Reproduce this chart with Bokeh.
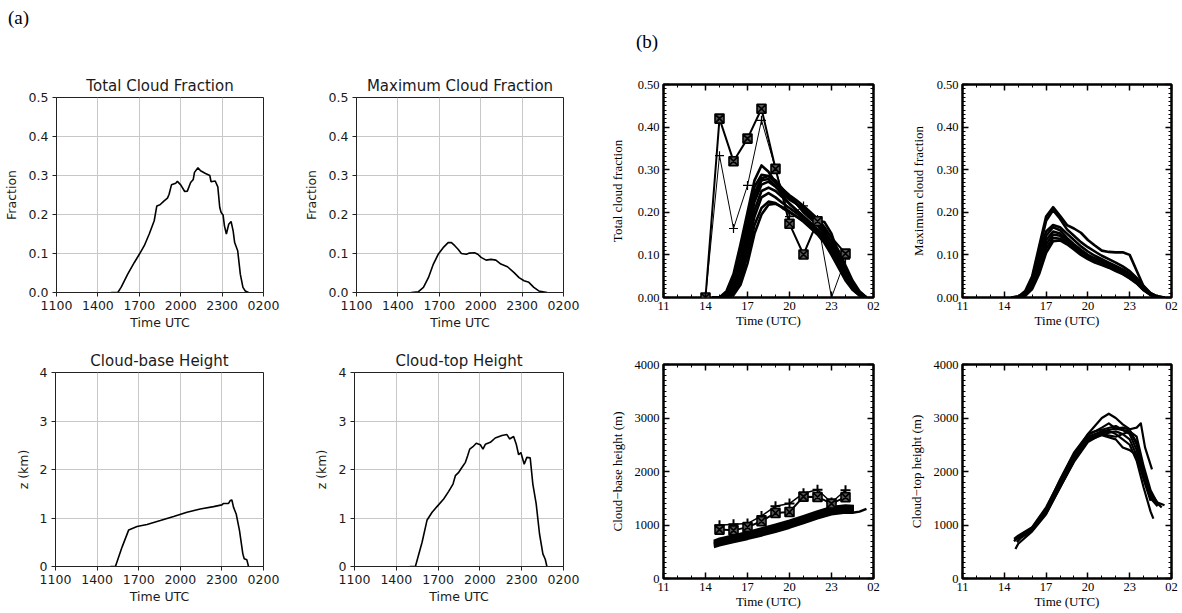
from bokeh.plotting import figure
from bokeh.models import (Range1d, FixedTicker, SingleIntervalTicker, NumeralTickFormatter,
                          LinearAxis, Title, Div, CustomJSTickFormatter)
from bokeh.layouts import row, column
from bokeh.embed import file_html
from bokeh.resources import INLINE

# ---------------- data: panel (a) ----------------
A_XTICKS = [11, 14, 17, 20, 23, 26]
A_XLABELS = ["1100", "1400", "1700", "2000", "2300", "0200"]
A_FRAC_TICKS = [0.0, 0.1, 0.2, 0.3, 0.4, 0.5]
A_Z_TICKS = [0, 1, 2, 3, 4]

TCF_T = [14.96, 15.44, 15.68, 16.16, 16.64, 17.0, 17.36, 17.72, 18.08, 18.27, 18.5, 18.8, 19.04, 19.16,
         19.33, 19.64, 19.76, 20.0, 20.29, 20.48, 20.72, 20.91, 21.0, 21.25, 21.44, 21.8, 22.11, 22.2,
         22.5, 22.69, 22.83, 22.93, 23.07, 23.17, 23.31, 23.48, 23.65, 23.8, 23.91, 24.13, 24.32, 24.51,
         24.68, 24.92]
TCF_V = [0.0, 0.0, 0.013, 0.047, 0.077, 0.098, 0.12, 0.15, 0.184, 0.222, 0.225, 0.235, 0.242, 0.252,
         0.276, 0.28, 0.285, 0.276, 0.259, 0.26, 0.282, 0.29, 0.308, 0.32, 0.312, 0.305, 0.3, 0.284,
         0.286, 0.271, 0.218, 0.205, 0.199, 0.171, 0.15, 0.175, 0.182, 0.158, 0.128, 0.107, 0.047, 0.013,
         0.004, 0.0]

MCF_T = [14.97, 15.49, 15.85, 16.21, 16.57, 16.92, 17.28, 17.64, 17.88, 18.12, 18.36, 18.6, 18.96, 19.19,
         19.55, 19.79, 20.03, 20.39, 20.75, 21.1, 21.46, 21.94, 22.42, 22.78, 23.14, 23.49, 23.85, 24.21,
         24.81]
MCF_V = [0.0, 0.002, 0.013, 0.038, 0.073, 0.098, 0.115, 0.128, 0.128, 0.12, 0.111, 0.1, 0.098, 0.101,
         0.102, 0.098, 0.09, 0.083, 0.085, 0.083, 0.073, 0.066, 0.051, 0.038, 0.03, 0.026, 0.013, 0.004,
         0.0]

CBH_T = [14.96, 15.32, 15.8, 16.28, 16.88, 17.6, 18.56, 19.52, 20.48, 21.44, 22.4, 23.0, 23.12, 23.48,
         23.6, 23.72, 23.84, 24.03, 24.27, 24.51, 24.61, 24.8, 24.92]
CBH_V = [0.0, 0.0, 0.4, 0.755, 0.823, 0.865, 0.947, 1.03, 1.118, 1.187, 1.235, 1.27, 1.3, 1.3,
         1.36, 1.372, 1.22, 1.084, 0.741, 0.261, 0.158, 0.137, 0.0]

CTH_T = [14.97, 15.37, 15.85, 16.21, 16.57, 16.92, 17.4, 17.76, 18.07, 18.24, 18.48, 18.72, 18.96, 19.12,
         19.27, 19.5, 19.74, 20.03, 20.22, 20.39, 20.75, 21.1, 21.58, 21.94, 22.13, 22.42, 22.61, 22.78,
         22.94, 23.18, 23.37, 23.61, 23.8, 24.04, 24.28, 24.52, 24.69, 24.81]
CTH_V = [0.0, 0.0, 0.5, 0.96, 1.118, 1.235, 1.393, 1.55, 1.7, 1.873, 1.942, 2.045, 2.147, 2.285,
         2.42, 2.47, 2.54, 2.51, 2.42, 2.52, 2.56, 2.65, 2.7, 2.72, 2.63, 2.68, 2.52, 2.305,
         2.35, 2.11, 2.25, 2.24, 1.7, 1.29, 0.67, 0.26, 0.15, 0.0]

# ---------------- data: panel (b) ----------------
B_XTICKS = [11, 14, 17, 20, 23, 26]
B_XLABELS = ["11", "14", "17", "20", "23", "02"]
B_XMINOR = [11, 12, 13, 14, 15, 16, 17, 18, 19, 20, 21, 22, 23, 24, 25, 26]

# observations, total cloud fraction
OBS_SQ_T = [14, 15, 16, 17, 18, 19, 20, 21, 22, 24]
OBS_SQ_TCF = [0.0, 0.42, 0.32, 0.373, 0.443, 0.302, 0.173, 0.101, 0.179, 0.103]
OBS_PL_T = [14, 15, 16, 17, 18, 19, 20, 21, 22, 23, 24]
OBS_PL_TCF = [0.0, 0.333, 0.162, 0.263, 0.416, 0.302, 0.19, 0.215, 0.183, 0.0, 0.09]

# model runs, total cloud fraction
B_TCF_H = [14.5, 15.0, 15.5, 16.0, 16.5, 17.0, 17.5, 18.0, 18.5, 19.0, 19.5, 20.0, 20.5, 21.0, 21.5,
           22.0, 22.5, 23.0, 23.5, 24.0, 24.5, 25.0, 25.5]
B_TCF_RUNS = [
    [0.0, 0.0, 0.015, 0.055, 0.125, 0.2, 0.275, 0.31, 0.295, 0.27, 0.25, 0.235, 0.22, 0.205, 0.19, 0.175, 0.155, 0.13, 0.1, 0.065, 0.035, 0.012, 0.0],
    [0.0, 0.0, 0.01, 0.045, 0.11, 0.19, 0.26, 0.288, 0.285, 0.27, 0.255, 0.24, 0.228, 0.215, 0.2, 0.185, 0.165, 0.14, 0.11, 0.075, 0.04, 0.015, 0.0],
    [0.0, 0.0, 0.007, 0.035, 0.09, 0.17, 0.245, 0.28, 0.285, 0.275, 0.255, 0.235, 0.22, 0.2, 0.185, 0.17, 0.15, 0.13, 0.1, 0.065, 0.035, 0.012, 0.0],
    [0.0, 0.0, 0.005, 0.028, 0.08, 0.16, 0.235, 0.275, 0.278, 0.262, 0.24, 0.22, 0.205, 0.19, 0.175, 0.16, 0.145, 0.12, 0.09, 0.06, 0.03, 0.01, 0.0],
    [0.0, 0.0, 0.004, 0.022, 0.07, 0.15, 0.225, 0.265, 0.272, 0.26, 0.245, 0.23, 0.22, 0.21, 0.195, 0.18, 0.177, 0.15, 0.1, 0.055, 0.02, 0.005, 0.0],
    [0.0, 0.0, 0.003, 0.018, 0.06, 0.13, 0.205, 0.25, 0.258, 0.25, 0.235, 0.22, 0.205, 0.19, 0.175, 0.16, 0.14, 0.115, 0.085, 0.055, 0.028, 0.01, 0.0],
    [0.0, 0.0, 0.002, 0.014, 0.05, 0.12, 0.19, 0.235, 0.245, 0.235, 0.222, 0.21, 0.198, 0.185, 0.17, 0.155, 0.135, 0.11, 0.08, 0.05, 0.025, 0.008, 0.0],
    [0.0, 0.0, 0.001, 0.01, 0.04, 0.1, 0.17, 0.21, 0.225, 0.222, 0.21, 0.2, 0.19, 0.18, 0.165, 0.15, 0.13, 0.105, 0.075, 0.045, 0.02, 0.006, 0.0],
    [0.0, 0.0, 0.0, 0.006, 0.03, 0.08, 0.15, 0.195, 0.218, 0.22, 0.212, 0.202, 0.19, 0.178, 0.163, 0.148, 0.128, 0.1, 0.07, 0.04, 0.018, 0.005, 0.0],
]

# model runs, maximum cloud fraction
B_MCF_H = [14.5, 15.0, 15.5, 16.0, 16.5, 17.0, 17.5, 18.0, 18.5, 19.0, 19.5, 20.0, 20.5, 21.0, 21.5,
           22.0, 22.5, 23.0, 23.5, 24.0, 24.5, 25.0, 25.5]
B_MCF_RUNS = [
    [0, 0.002, 0.015, 0.05, 0.12, 0.19, 0.212, 0.192, 0.17, 0.162, 0.152, 0.135, 0.122, 0.11, 0.107, 0.106, 0.106, 0.1, 0.063, 0.026, 0.006, 0.001, 0],
    [0, 0.002, 0.012, 0.045, 0.11, 0.18, 0.205, 0.185, 0.16, 0.145, 0.13, 0.118, 0.108, 0.098, 0.09, 0.082, 0.073, 0.062, 0.046, 0.027, 0.01, 0.002, 0],
    [0, 0.001, 0.01, 0.04, 0.1, 0.155, 0.17, 0.165, 0.15, 0.135, 0.12, 0.108, 0.098, 0.09, 0.082, 0.074, 0.066, 0.056, 0.042, 0.024, 0.01, 0.002, 0],
    [0, 0.001, 0.009, 0.036, 0.09, 0.145, 0.165, 0.158, 0.14, 0.125, 0.112, 0.1, 0.092, 0.085, 0.078, 0.07, 0.063, 0.053, 0.04, 0.022, 0.009, 0.002, 0],
    [0, 0.001, 0.007, 0.032, 0.085, 0.135, 0.155, 0.15, 0.135, 0.122, 0.11, 0.098, 0.09, 0.082, 0.076, 0.068, 0.06, 0.05, 0.038, 0.02, 0.008, 0.001, 0],
    [0, 0.0, 0.006, 0.028, 0.075, 0.125, 0.148, 0.145, 0.132, 0.12, 0.108, 0.096, 0.088, 0.08, 0.074, 0.066, 0.058, 0.048, 0.036, 0.019, 0.007, 0.001, 0],
    [0, 0.0, 0.005, 0.024, 0.065, 0.115, 0.14, 0.138, 0.128, 0.116, 0.104, 0.093, 0.085, 0.078, 0.072, 0.064, 0.056, 0.046, 0.034, 0.018, 0.006, 0.001, 0],
    [0, 0.0, 0.004, 0.02, 0.055, 0.105, 0.132, 0.134, 0.125, 0.113, 0.1, 0.09, 0.082, 0.076, 0.07, 0.062, 0.055, 0.045, 0.033, 0.017, 0.006, 0.001, 0],
]

# observations, cloud-base height (m)
OBS_CB_T = [15, 16, 17, 18, 19, 20, 21, 22, 23, 24]
OBS_SQ_CBH = [914, 900, 960, 1070, 1225, 1244, 1530, 1524, 1400, 1520]
OBS_PL_CBH = [995, 1014, 1026, 1170, 1350, 1400, 1595, 1660, 1420, 1650]

# model runs, cloud-base height (m)
B_CBH_H = [14.6, 15, 16, 17, 18, 19, 20, 21, 22, 23, 24, 24.6]
B_CBH_RUNS = [
    [700, 740, 800, 860, 930, 1000, 1075, 1160, 1250, 1330, 1360, 1350],
    [680, 720, 780, 840, 910, 980, 1055, 1140, 1230, 1305, 1340, 1330],
    [660, 700, 760, 820, 890, 960, 1035, 1120, 1210, 1285, 1320, 1310],
    [645, 685, 745, 805, 870, 940, 1015, 1100, 1190, 1265, 1300, 1300],
    [630, 665, 725, 785, 850, 920, 995, 1080, 1170, 1245, 1285, 1290],
    [610, 645, 705, 765, 830, 900, 975, 1060, 1150, 1225, 1265, 1270],
]
B_CBH_LONG_H = [14.6, 15, 16, 17, 18, 19, 20, 21, 22, 23, 24, 24.5, 25, 25.5]
B_CBH_LONG_V = [590, 620, 680, 740, 805, 875, 950, 1035, 1125, 1200, 1235, 1230, 1250, 1300]

# model runs, cloud-top height (m)
B_CTH_HOURS = [
    [14.7, 15, 16, 17, 18, 19, 20, 20.5, 21, 21.5, 22, 22.5, 23, 23.5, 23.8, 24.1, 24.6],
    [14.7, 15, 16, 17, 18, 19, 20, 21, 21.5, 22, 22.5, 23, 23.5, 24, 24.5, 25, 25.5],
    [14.8, 15, 16, 17, 18, 19, 20, 21, 21.5, 22, 22.5, 23, 23.5, 24, 24.5, 24.7],
    [14.7, 15, 16, 17, 18, 19, 20, 21, 22, 22.5, 23, 23.5, 24, 24.5, 25, 25.3],
    [14.9, 15.2, 16, 17, 18, 19, 20, 21, 22, 22.5, 23, 23.5, 24, 24.5, 25],
    [15, 16, 17, 18, 19, 20, 21, 21.5, 22, 23, 23.5, 24, 24.5, 25],
    [15, 16, 17, 18, 19, 20, 21, 22, 22.5, 23, 23.5, 24, 24.5],
    [15, 16, 17, 18, 19, 20, 20.5, 21, 22, 23, 23.5, 24, 24.5, 25],
]
B_CTH_RUNS = [
    [700, 760, 940, 1300, 1800, 2300, 2700, 2850, 3000, 3080, 3000, 2880, 2790, 2820, 2900, 2450, 2040],
    [740, 800, 960, 1330, 1830, 2330, 2650, 2750, 2780, 2800, 2820, 2780, 2500, 2000, 1600, 1420, 1370],
    [550, 650, 880, 1200, 1700, 2200, 2600, 2720, 2760, 2700, 2600, 2500, 2200, 1700, 1250, 1120],
    [700, 770, 920, 1250, 1760, 2250, 2620, 2700, 2650, 2700, 2750, 2650, 2100, 1650, 1400, 1330],
    [680, 760, 900, 1230, 1720, 2200, 2580, 2680, 2600, 2450, 2400, 2300, 1900, 1500, 1380],
    [780, 930, 1280, 1800, 2300, 2680, 2820, 2900, 2800, 2750, 2550, 1950, 1550, 1400],
    [750, 900, 1220, 1700, 2180, 2550, 2700, 2750, 2700, 2600, 2300, 1850, 1450],
    [760, 950, 1300, 1850, 2350, 2700, 2750, 2780, 2850, 2700, 2400, 1900, 1500, 1350],
]

SANS = "DejaVu Sans"
SERIF = "Liberation Serif"
INK = "#1a1a1a"


def label_formatter(tick_values, tick_labels):
    return CustomJSTickFormatter(args=dict(tv=tick_values, tl=tick_labels),
                                 code="const i = tv.indexOf(tick); return i >= 0 ? tl[i] : '';")


def panel_tag(text, w, h, pad_top, pad_left):
    html = ('<div style="font-family:\'Liberation Serif\';font-size:19px;line-height:22px;'
            'color:black;margin:0;padding:%dpx 0 0 %dpx;">%s</div>' % (pad_top, pad_left, text))
    return Div(text=html, width=w, height=h, margin=0)


def make_a(w, h, bl, br, bt, bb, title, ylab, ystand, yr, yticks, yfmt, t, v):
    p = figure(width=w, height=h, x_range=Range1d(11, 26), y_range=Range1d(*yr),
               output_backend="svg", toolbar_location=None, title=None,
               min_border_left=bl, min_border_right=br, min_border_top=bt, min_border_bottom=bb)
    ttl = Title(text=title, align="center", standoff=5, text_font=SANS, text_font_size="15px",
                text_font_style="normal", text_color=INK)
    p.add_layout(ttl, "above")
    p.outline_line_color = "#222"
    p.outline_line_width = 1
    p.outline_line_alpha = 1
    xa = p.xaxis[0]
    ya = p.yaxis[0]
    xa.ticker = FixedTicker(ticks=A_XTICKS)
    xa.formatter = label_formatter(A_XTICKS, A_XLABELS)
    ya.ticker = FixedTicker(ticks=yticks)
    if yfmt:
        ya.formatter = NumeralTickFormatter(format=yfmt)
    for ax in (xa, ya):
        ax.major_tick_in = 0
        ax.major_tick_out = 4
        ax.minor_tick_line_color = None
        ax.major_tick_line_color = "#222"
        ax.axis_line_color = "#222"
        ax.major_label_text_font = SANS
        ax.major_label_text_font_size = "12.5px"
        ax.major_label_text_color = INK
        ax.major_label_standoff = 4
        ax.axis_label_text_font = SANS
        ax.axis_label_text_font_size = "12.5px"
        ax.axis_label_text_font_style = "normal"
        ax.axis_label_text_color = INK
    xa.axis_label = "Time UTC"
    xa.axis_label_standoff = 2
    ya.axis_label = ylab
    ya.axis_label_standoff = ystand
    p.grid.grid_line_color = "#c8c8c8"
    p.grid.grid_line_width = 1
    p.line(t, v, line_color="black", line_width=1.6)
    return p


def make_b(w, h, bl, br, bt, bb, ylab, ystand, yr, yint, yfmt):
    p = figure(width=w, height=h, x_range=Range1d(11, 26), y_range=Range1d(*yr),
               output_backend="svg", toolbar_location=None, title=None,
               min_border_left=bl, min_border_right=br, min_border_top=bt, min_border_bottom=bb)
    p.outline_line_color = "black"
    p.outline_line_width = 2.5
    p.outline_line_alpha = 1
    p.grid.grid_line_color = None
    xa = p.xaxis[0]
    ya = p.yaxis[0]
    xt = FixedTicker(ticks=B_XTICKS, minor_ticks=B_XMINOR)
    yt = SingleIntervalTicker(interval=yint, num_minor_ticks=10)
    xa.ticker = xt
    xa.formatter = label_formatter(B_XTICKS, B_XLABELS)
    ya.ticker = yt
    if yfmt:
        ya.formatter = NumeralTickFormatter(format=yfmt)
    xa.axis_label = "Time (UTC)"
    xa.axis_label_standoff = 0
    ya.axis_label = ylab
    ya.axis_label_standoff = ystand
    top = LinearAxis(ticker=xt, formatter=CustomJSTickFormatter(code="return '';"))
    right = LinearAxis(ticker=yt, formatter=CustomJSTickFormatter(code="return '';"))
    p.add_layout(top, "above")
    p.add_layout(right, "right")
    for ax in (xa, ya, top, right):
        ax.major_tick_in = 6
        ax.major_tick_out = 0
        ax.minor_tick_in = 3
        ax.minor_tick_out = 0
        ax.major_tick_line_width = 1.5
        ax.major_tick_line_color = "black"
        ax.minor_tick_line_color = "black"
        ax.minor_tick_line_width = 1
        ax.axis_line_color = None
        ax.major_label_text_font = SERIF
        ax.major_label_text_font_size = "12.5px"
        ax.major_label_text_color = "black"
        ax.major_label_standoff = 4
        ax.axis_label_text_font = SERIF
        ax.axis_label_text_font_size = "13px"
        ax.axis_label_text_font_style = "normal"
        ax.axis_label_text_color = "black"
    top.major_label_standoff = 0
    right.major_label_standoff = 0
    return p


# ---------------- panel (a) ----------------
tag_a = panel_tag("(a)", 590, 36, 7, 8)
a1 = make_a(300, 304, 55, 37, 61, 48, "Total Cloud Fraction", "Fraction", 7, (0, 0.5),
            A_FRAC_TICKS, "0.0", TCF_T, TCF_V)
a2 = make_a(290, 304, 54, 27, 61, 48, "Maximum Cloud Fraction", "Fraction", 7, (0, 0.5),
            A_FRAC_TICKS, "0.0", MCF_T, MCF_V)
a3 = make_a(300, 273, 55, 37, 32, 47, "Cloud-base Height", "z (km)", 6, (0, 4),
            A_Z_TICKS, None, CBH_T, CBH_V)
a4 = make_a(290, 273, 54, 27, 32, 47, "Cloud-top Height", "z (km)", 7, (0, 4),
            A_Z_TICKS, None, CTH_T, CTH_V)

# ---------------- panel (b) ----------------
tag_b = panel_tag("(b)", 592, 56, 31, 46)
b1 = make_b(300, 276, 73, 17, 28, 35, "Total cloud fraction", 10, (0, 0.5), 0.1, "0.00")
b2 = make_b(292, 276, 72, 11, 28, 35, "Maximum cloud fraction", 8, (0, 0.5), 0.1, "0.00")
b3 = make_b(300, 281, 73, 17, 32, 35, "Cloud\u2212base height (m)", 7, (0, 4000), 1000, None)
b4 = make_b(292, 281, 72, 11, 32, 35, "Cloud\u2212top height (m)", 7, (0, 4000), 1000, None)

b1.multi_line([B_TCF_H] * len(B_TCF_RUNS), B_TCF_RUNS, line_color="black", line_width=2.6,
              line_join="round")
b1.line(OBS_PL_T, OBS_PL_TCF, line_color="black", line_width=1)
b1.scatter(OBS_PL_T, OBS_PL_TCF, marker="cross", size=9, line_color="black", line_width=1.2)
b1.line(OBS_SQ_T, OBS_SQ_TCF, line_color="black", line_width=2)
b1.scatter(OBS_SQ_T, OBS_SQ_TCF, marker="square_x", size=9, line_color="black",
           fill_color="#555555", line_width=1.6)

b2.multi_line([B_MCF_H] * len(B_MCF_RUNS), B_MCF_RUNS, line_color="black", line_width=2.6,
              line_join="round")

b3.multi_line([B_CBH_H] * len(B_CBH_RUNS), B_CBH_RUNS, line_color="black", line_width=3,
              line_join="round")
b3.line(B_CBH_LONG_H, B_CBH_LONG_V, line_color="black", line_width=2.5)
b3.line(OBS_CB_T, OBS_PL_CBH, line_color="black", line_width=1.5)
b3.scatter(OBS_CB_T, OBS_PL_CBH, marker="cross", size=10, line_color="black", line_width=2)
b3.line(OBS_CB_T, OBS_SQ_CBH, line_color="black", line_width=2)
b3.scatter(OBS_CB_T, OBS_SQ_CBH, marker="square_x", size=9, line_color="black",
           fill_color="#555555", line_width=1.6)

b4.multi_line(B_CTH_HOURS, B_CTH_RUNS, line_color="black", line_width=2.2, line_join="round")

layout = row(column(tag_a, row(a1, a2), row(a3, a4)),
             column(tag_b, row(b1, b2), row(b3, b4)))

open("out.html", "w").write(file_html(layout, INLINE))
